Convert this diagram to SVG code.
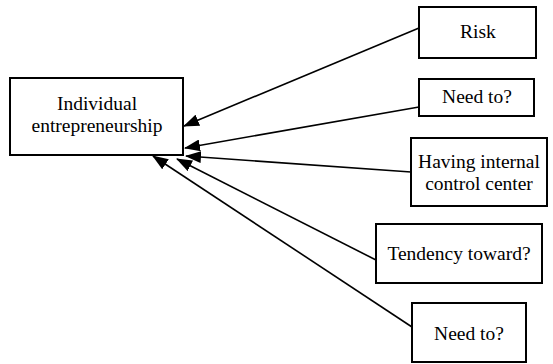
<svg xmlns="http://www.w3.org/2000/svg" width="553" height="364" viewBox="0 0 553 364">
<style>
rect{fill:#fff;stroke:#000;stroke-width:2}
text{font-family:'Liberation Serif','Times New Roman',Times,serif;font-size:19.5px;fill:#000;text-anchor:middle}
.c line{stroke:#000;stroke-width:1.6;marker-end:url(#ah)}
</style>
<defs>
<marker id="ah" markerUnits="userSpaceOnUse" markerWidth="16" markerHeight="12" refX="15" refY="6" orient="auto" viewBox="0 0 16 12">
<path d="M0,0 L16,6 L0,12 z" fill="#000"/>
</marker>
</defs>
<rect x="0" y="0" width="553" height="364" style="stroke:none"/>
<g class="c" id="connectors">
<line x1="419" y1="28" x2="184" y2="126"/>
<line x1="419" y1="107" x2="185" y2="148"/>
<line x1="411" y1="172" x2="186" y2="156"/>
<line x1="376" y1="260" x2="177" y2="159"/>
<line x1="412" y1="327" x2="153" y2="156"/>
</g>
<g id="individual">
<rect x="10" y="78" width="173" height="77"/>
<text x="97" y="110">Individual</text>
<text x="97" y="132">entrepreneurship</text>
</g>
<g id="risk">
<rect x="419" y="7" width="117" height="51"/>
<text x="478" y="38">Risk</text>
</g>
<g id="need1">
<rect x="419" y="79" width="115" height="37"/>
<text x="477" y="103">Need to?</text>
</g>
<g id="having">
<rect x="411" y="138" width="136" height="68"/>
<text x="479" y="168">Having internal</text>
<text x="479" y="190">control center</text>
</g>
<g id="tendency">
<rect x="376" y="224" width="166" height="59"/>
<text x="459" y="260">Tendency toward?</text>
</g>
<g id="need2">
<rect x="412" y="303" width="114" height="59"/>
<text x="469" y="340">Need to?</text>
</g>
</svg>
